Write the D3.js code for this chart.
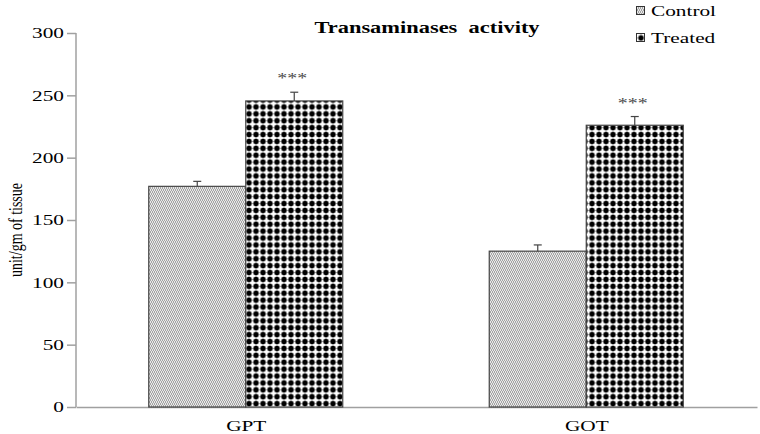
<!DOCTYPE html>
<html><head><meta charset="utf-8">
<script src="https://cdn.jsdelivr.net/npm/d3@7"></script>
<style>body{margin:0;background:#fff}svg{display:block}</style>
</head><body>
<svg id="c" width="760" height="434"></svg>
<script>
const categories = ["GPT", "GOT"];
const seriesNames = ["Control", "Treated"];
const controlValues = [177, 125];
const treatedValues = [245.5, 226];
const controlErrors = [4, 5];
const treatedErrors = [7, 7];
const yTicks = [0, 50, 100, 150, 200, 250, 300];

const svg = d3.select("#c");
const font = "'Liberation Serif', 'Times New Roman', serif";
const SX = 1.42; // horizontal stretch of text in the reference
const defs = svg.append("defs");

// Control pattern: fine gray zigzag texture (pixel cells)
const pc = defs.append("pattern").attr("id","pCtrl").attr("patternUnits","userSpaceOnUse").attr("width",4).attr("height",4);
pc.append("rect").attr("width",4).attr("height",4).attr("fill","#e8e8e8");
const darkCells = [[0,0],[1,1],[2,0],[3,1],[1,2],[2,3],[3,2],[0,3]];
darkCells.forEach(([cx,cy]) => pc.append("rect").attr("x",cx).attr("y",cy).attr("width",1).attr("height",1)
  .attr("fill","#a4a4a4").attr("shape-rendering","crispEdges"));

// Treated pattern: black blobs separated by white grid
const pt = defs.append("pattern").attr("id","pTrt").attr("patternUnits","userSpaceOnUse").attr("width",7).attr("height",6.9).attr("x",245.5).attr("y",0);
pt.append("rect").attr("width",7).attr("height",6.9).attr("fill","#fff");
pt.append("path").attr("d","M3.5,0.4 L5.5,1.3 L6.4,3.45 L5.5,5.6 L3.5,6.5 L1.5,5.6 L0.6,3.45 L1.5,1.3 Z").attr("fill","#000");

const x0 = d3.scaleBand().domain(categories).range([76, 757]).paddingInner(0).paddingOuter(0);
const y = d3.scaleLinear().domain([0,300]).range([407,33]);

// Y axis
const ySize = 9, yPad = 3;
const yAxis = svg.append("g").attr("transform","translate(76,0)")
  .call(d3.axisLeft(y).tickValues(yTicks).tickSize(ySize).tickPadding(yPad));
yAxis.select(".domain").attr("stroke","#a0a0a0").attr("stroke-width",1.5).attr("d","M0,33V407");
yAxis.selectAll(".tick line").attr("stroke","#a0a0a0").attr("stroke-width",1.5);
yAxis.selectAll(".tick text").attr("font-family",font).attr("font-size",15).attr("fill","#000")
  .attr("x", -(ySize+yPad)/SX).attr("transform",`scale(${SX},1)`);

// X axis
const xAxis = svg.append("g").attr("transform","translate(0,407)")
  .call(d3.axisBottom(x0).tickSize(0).tickPadding(13));
xAxis.select(".domain").attr("stroke","#a0a0a0").attr("stroke-width",1.5);
xAxis.selectAll(".tick text").attr("font-family",font).attr("font-size",15).attr("fill","#000")
  .attr("transform",`scale(${SX},1)`);

const barW = 97;
const series = [
  {name:"Control", values:controlValues, errs:controlErrors, fill:"url(#pCtrl)", offset:-barW},
  {name:"Treated", values:treatedValues, errs:treatedErrors, fill:"url(#pTrt)", offset:0}
];

categories.forEach((cat, i) => {
  const cx = x0(cat) + x0.bandwidth()/2 - 0.5;
  series.forEach(s => {
    const v = s.values[i];
    const bx = cx + s.offset;
    svg.append("rect").attr("x", bx).attr("y", y(v)).attr("width", barW).attr("height", y(0)-y(v))
      .attr("fill", s.fill).attr("stroke","#444").attr("stroke-width",1.2);
    const ex = bx + barW/2;
    const et = y(v+s.errs[i]);
    svg.append("line").attr("x1",ex).attr("x2",ex).attr("y1",y(v)).attr("y2",et).attr("stroke","#444").attr("stroke-width",1.2);
    svg.append("line").attr("x1",ex-4).attr("x2",ex+4).attr("y1",et).attr("y2",et).attr("stroke","#444").attr("stroke-width",1.2);
    if (s.name === "Treated") {
      svg.append("text").attr("transform",`translate(${ex-2},${et-9}) scale(${SX},1)`)
        .attr("text-anchor","middle").attr("font-family",font).attr("font-size",14).attr("fill","#444").text("***");
    }
  });
});

// Title
svg.append("text").attr("transform","translate(427,33) scale(1.36,1)").attr("text-anchor","middle").attr("font-family",font)
  .attr("font-weight","bold").attr("font-size",16.5).style("white-space","pre").text("Transaminases  activity");

// Y label
svg.append("text").attr("transform",`translate(22,230) scale(1.3,1) rotate(-90)`).attr("text-anchor","middle")
  .attr("font-family",font).attr("font-size",14).text("unit/gm of tissue");

// Legend
seriesNames.forEach((n, i) => {
  const ly = 16 + i*27;
  svg.append("rect").attr("x",636.5).attr("y",ly-9.5).attr("width",8).attr("height",8)
    .attr("fill", i===0 ? "url(#pCtrl)" : "url(#pTrt)").attr("stroke","#333").attr("stroke-width",1);
  svg.append("text").attr("transform",`translate(651,${ly}) scale(${SX},1)`).attr("font-family",font).attr("font-size",15).text(n);
});
</script>
</body></html>
